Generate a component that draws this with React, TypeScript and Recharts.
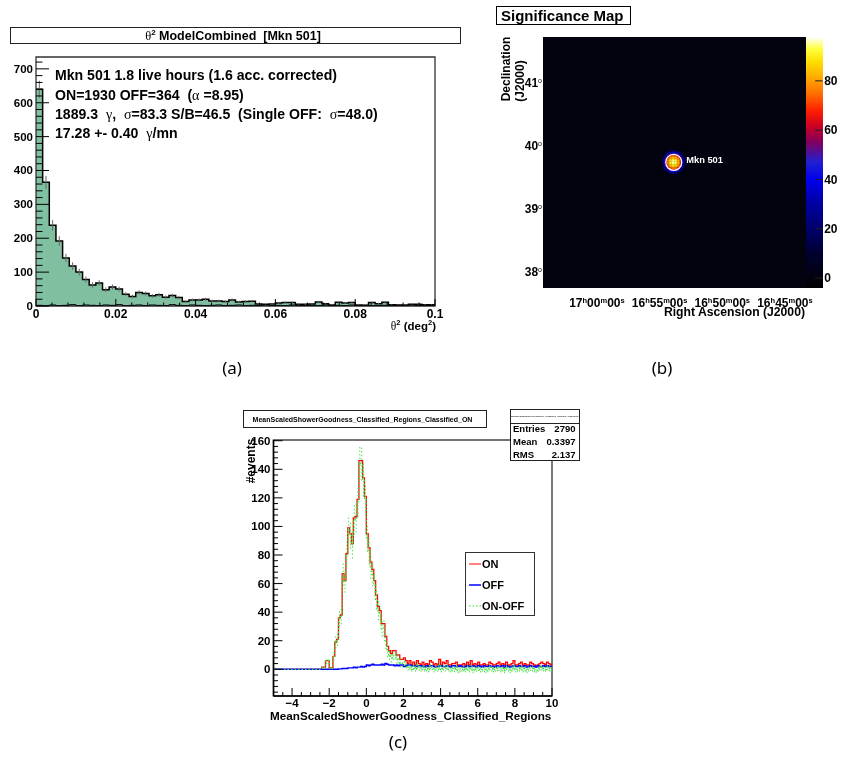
import {
  Area,
  Bar,
  BarChart,
  ComposedChart,
  ErrorBar,
  Legend,
  Line,
  ReferenceArea,
  ReferenceDot,
  Scatter,
  ScatterChart,
  XAxis,
  YAxis,
} from "recharts";

const FONT = "'Liberation Sans', Arial, sans-serif";
const INK = "#000";

// (a) theta2 histogram, 60 bins over 0..0.1
const THETA_BIN = 0.1 / 60;
const thetaOn = [
  640, 365, 238, 192, 142, 118, 100, 78, 62, 68,
  48, 56, 50, 35, 28, 40, 37, 30, 33, 26,
  31, 25, 13, 18, 18, 20, 15, 15, 13, 18,
  12, 13, 14, 6, 5, 6, 9, 10, 10, 5,
  5, 6, 12, 7, 3, 11, 9, 10, 3, 2,
  10, 7, 11, 4, 3, 3, 5, 5, 4, 4,
];
const thetaOff = [
  2, 1, 3, 1, 2, 4, 1, 3, 2, 1,
  3, 2, 4, 1, 2, 3, 1, 3, 2, 1,
  4, 2, 1, 3, 2, 1, 2, 3, 1, 2,
  3, 1, 2, 1, 3, 1, 2, 1, 3, 2,
  1, 2, 1, 3, 1, 2, 1, 3, 1, 2,
  1, 1, 2, 1, 2, 1, 3, 1, 1, 2,
];
const thetaErr = [
  25, 19, 15.4, 14, 12, 11, 10, 9, 8, 8,
  7, 7.4, 7, 6, 5.5, 6.3, 6, 5.5, 5.7, 5,
  5.5, 5, 3.6, 4.2, 4.2, 4.5, 3.9, 3.9, 3.6, 4.2,
  3.5, 3.6, 3.7, 2.4, 2.2, 2.4, 3, 3.2, 3.2, 2.2,
  2.2, 2.4, 3.5, 2.6, 1.7, 3.3, 3, 3.2, 1.7, 1.4,
  3.2, 2.6, 3.3, 2, 1.7, 1.7, 2.2, 2.2, 2, 2,
];
const thetaXTicks = [
  0, 0.004, 0.008, 0.012, 0.016, 0.02, 0.024, 0.028, 0.032, 0.036, 0.04, 0.044, 0.048, 0.052,
  0.056, 0.06, 0.064, 0.068, 0.072, 0.076, 0.08, 0.084, 0.088, 0.092, 0.096, 0.1,
];
const thetaXMajor = [0, 0.02, 0.04, 0.06, 0.08, 0.1];
const thetaYMajor = [0, 100, 200, 300, 400, 500, 600, 700];
const thetaYTicks = Array.from({ length: 37 }, (_, i) => i * 20);

// (b) significance map: RA in minutes after 16h, Dec in degrees
const RA_DOMAIN = [43.32, 64.3];
const DEC_DOMAIN = [37.75, 41.73];
const raTicks = [60, 55, 50, 45];
const raTickLabels = [
  ["17", "00", "00"],
  ["16", "55", "00"],
  ["16", "50", "00"],
  ["16", "45", "00"],
];
const decTicks = [41, 40, 39, 38];
const zTicks = [0, 20, 40, 60, 80];
const Z_DOMAIN = [-4, 97.8];
const SOURCE_RA = 53.87;
const SOURCE_DEC = 39.743;
const CELL_RA = 0.12;
const CELL_DEC = 0.024;
const sigRows = [
  [0, 0, 1, 2, 3, 4, 6, 7, 8, 7, 6, 4, 3, 2, 1, 0, 0],
  [0, 1, 2, 4, 7, 13, 19, 22, 24, 22, 19, 13, 7, 4, 2, 1, 0],
  [1, 2, 4, 10, 20, 29, 37, 42, 44, 42, 37, 29, 20, 10, 4, 2, 1],
  [2, 4, 10, 22, 35, 49, 57, 62, 64, 62, 57, 49, 35, 22, 10, 4, 2],
  [3, 7, 20, 35, 52, 64, 72, 75, 76, 75, 72, 64, 52, 35, 20, 7, 3],
  [4, 13, 29, 49, 64, 74, 80, 83, 84, 83, 80, 74, 64, 49, 29, 13, 4],
  [6, 19, 37, 57, 72, 80, 85, 88, 90, 88, 85, 80, 72, 57, 37, 19, 6],
  [7, 22, 42, 62, 75, 83, 88, 93, 95, 93, 88, 83, 75, 62, 42, 22, 7],
  [8, 24, 44, 64, 76, 84, 90, 95, 98, 95, 90, 84, 76, 64, 44, 24, 8],
  [7, 22, 42, 62, 75, 83, 88, 93, 95, 93, 88, 83, 75, 62, 42, 22, 7],
  [6, 19, 37, 57, 72, 80, 85, 88, 90, 88, 85, 80, 72, 57, 37, 19, 6],
  [4, 13, 29, 49, 64, 74, 80, 83, 84, 83, 80, 74, 64, 49, 29, 13, 4],
  [3, 7, 20, 35, 52, 64, 72, 75, 76, 75, 72, 64, 52, 35, 20, 7, 3],
  [2, 4, 10, 22, 35, 49, 57, 62, 64, 62, 57, 49, 35, 22, 10, 4, 2],
  [1, 2, 4, 10, 20, 29, 37, 42, 44, 42, 37, 29, 20, 10, 4, 2, 1],
  [0, 1, 2, 4, 7, 13, 19, 22, 24, 22, 19, 13, 7, 4, 2, 1, 0],
  [0, 0, 1, 2, 3, 4, 6, 7, 8, 7, 6, 4, 3, 2, 1, 0, 0],
];
const paletteValues = [-4, 0, 10, 20, 30, 40, 47, 55, 62, 68, 75, 82, 88, 93, 98];
const paletteColors = [
  "#000000", "#03030f", "#000030", "#00006a", "#0000a0", "#0000ee", "#2020d0", "#800060",
  "#d00020", "#ff2000", "#ff7000", "#ffb000", "#ffe000", "#ffff40", "#ffffff",
];

// (c) shower goodness histograms, 150 bins over -5..10
const SHOWER_BIN = 0.1;
const showerOn = [
  0, 0, 0, 0, 0, 0, 0, 0, 0, 0, 0, 0, 0, 0, 0, 0, 0, 0, 0, 0, 0, 0, 0, 0, 0, 0,
  1.5, 1.5, 6, 6, 1, 1, 9, 19, 21, 36, 38, 67, 62, 81,
  99, 95, 88, 106, 107, 119, 146, 146, 134, 121,
  95, 85, 75, 70, 62, 52, 44, 41, 32, 32,
  23, 16, 13, 11, 13, 13, 10, 10, 7, 7,
  8, 6, 4, 6, 3, 5, 3, 6, 4, 3,
  5, 3, 4, 3, 6, 5, 3, 4, 3, 7,
  3, 5, 4, 6, 3, 3, 4, 4, 5, 3,
  3, 3, 4, 3, 5, 3, 6, 3, 4, 3,
  5, 3, 3, 4, 3, 3, 5, 4, 3, 3,
  4, 5, 3, 4, 3, 5, 3, 3, 4, 6,
  3, 3, 4, 5, 3, 4, 3, 3, 5, 4,
  3, 2, 3, 4, 5, 4, 3, 5, 4, 3,
];
const showerOff = [
  0, 0, 0, 0, 0, 0, 0, 0, 0, 0, 0, 0, 0, 0, 0, 0, 0, 0, 0, 0, 0, 0, 0, 0, 0, 0,
  0, 0, 0, 0, 0, 0, 0, 0, 0, 0.3, 0.3, 0.5, 0.5, 0.5,
  1, 1, 1, 1.5, 1, 1.5, 1.5, 2, 1.5, 2,
  3, 2.5, 3, 3.5, 3, 3, 3, 3, 3.5, 3,
  4, 3.5, 3, 3, 3, 2.5, 3, 2.5, 3, 3,
  2, 2.5, 3, 3, 2.5, 2.5, 2.5, 2, 2.5, 2.5,
  2, 1.5, 2.5, 2, 2.5, 2.5, 2, 1.5, 2, 2.5,
  2.5, 2, 2, 2.5, 2, 1.5, 2.5, 2.5, 2, 2,
  2.5, 2, 1.5, 2, 2.5, 2, 2, 2.5, 2, 1.5,
  2.5, 2, 1.5, 2.5, 2, 2, 2.5, 2, 2, 1.5,
  2.5, 2, 2, 2.5, 1.5, 2.5, 2, 1.5, 2, 2.5,
  2, 2, 2.5, 2, 2, 2.5, 1.5, 2, 2.5, 2,
  2, 1.5, 2.5, 2, 2, 2.5, 2, 2.5, 2, 2,
];
const showerDiff = [
  0, 0, 0, 0, 0, 0, 0, 0, 0, 0, 0, 0, 0, 0, 0, 0, 0, 0, 0, 0, 0, 0, 0, 0, 0, 0,
  1.5, 1.5, 6, 6, 1, 1, 9, 19, 21, 35.7, 37.7, 66.5, 61.5, 80.5,
  98, 94, 87, 104.5, 106, 117.5, 144.5, 144, 132.5, 119,
  92, 82.5, 72, 66.5, 59, 49, 41, 38, 28.5, 29,
  19, 12.5, 10, 8, 10, 10.5, 7, 7.5, 4, 4,
  5, 3, 1, 2, 0, 2, 0, 3, 1, 0,
  1.5, 0, 0.5, -0.5, 2.5, 1.5, -0.5, 1, 0, 3,
  -0.5, 1.5, 0.5, 2, 0, -0.5, 0.5, 0, 1.5, -1,
  -0.5, 0, 0.5, -0.5, 1.5, -0.5, 2, -1, 0.5, 0,
  1, -0.5, 0, 0, -1, 0, 1.5, 0.5, -0.5, 0,
  0.5, 1, -0.5, 0.5, -1, 1.5, 0, -1, 0.5, 2,
  -0.5, 0, 0.5, 1.5, -0.5, 0.5, -1, 0, 1, 0.5,
  -0.5, -1, 0, 1, 1.5, 0.5, 0, 1.5, 0.5, 0,
];
const showerErr = [
  0, 0, 0, 0, 0, 0, 0, 0, 0, 0, 0, 0, 0, 0, 0, 0, 0, 0, 0, 0, 0, 0, 0, 0, 0, 0,
  1.2, 1.2, 2.5, 2.5, 1, 1, 3, 4.4, 4.6, 6, 6.2, 8.2, 7.9, 9,
  9.9, 9.7, 9.4, 10.3, 10.3, 10.9, 12, 12, 11.6, 11,
  9.8, 9.2, 8.7, 8.4, 7.9, 7.2, 6.6, 6.4, 5.7, 5.7,
  4.8, 4, 3.6, 3.3, 3.6, 3.6, 3.2, 3.2, 2.6, 2.6,
  2.8, 2.4, 2, 2.4, 1.7, 2.2, 1.7, 2.4, 2, 1.7,
  2.2, 1.7, 2, 1.7, 2.4, 2.2, 1.7, 2, 1.7, 2.6,
  1.7, 2.2, 2, 2.4, 1.7, 1.7, 2, 2, 2.2, 1.7,
  1.7, 1.7, 2, 1.7, 2.2, 1.7, 2.4, 1.7, 2, 1.7,
  2.2, 1.7, 1.7, 2, 1.7, 1.7, 2.2, 2, 1.7, 1.7,
  2, 2.2, 1.7, 2, 1.7, 2.2, 1.7, 1.7, 2, 2.4,
  1.7, 1.7, 2, 2.2, 1.7, 2, 1.7, 1.7, 2.2, 2,
  1.7, 1.4, 1.7, 2, 2.2, 2, 1.7, 2.2, 2, 1.7,
];
const showerXMajor = [-4, -2, 0, 2, 4, 6, 8, 10];
const showerXTicks = Array.from({ length: 30 }, (_, i) => -4.5 + i * 0.5);
const showerYMajor = [0, 20, 40, 60, 80, 100, 120, 140, 160];
const showerYTicks = Array.from({ length: 45 }, (_, i) => -16 + i * 4);
const showerLegendNames = ["ON", "OFF", "ON-OFF"];
const statNames = ["Entries", "Mean", "RMS"];
const statValues = ["2790", "0.3397", "2.137"];

const thetaRows = [...thetaOn, thetaOn[59]].map((on, i) => ({
  x: i * THETA_BIN,
  on,
  off: thetaOff[Math.min(i, 59)],
}));
const thetaCentres = thetaOn.map((on, i) => ({
  x: (i + 0.5) * THETA_BIN,
  on,
  err: thetaErr[i],
}));
const showerRows = [...showerOn, showerOn[149]].map((on, i) => ({
  x: -5 + i * SHOWER_BIN,
  on,
  off: showerOff[Math.min(i, 149)],
  diff: showerDiff[Math.min(i, 149)],
}));
const showerCentres = showerDiff.map((diff, i) => ({
  x: -5 + (i + 0.5) * SHOWER_BIN,
  diff,
  err: showerErr[i],
}));
const sigCells = sigRows.flatMap((row, r) =>
  row.map((sig, c) => ({
    ra: SOURCE_RA + (8 - c) * CELL_RA,
    dec: SOURCE_DEC + (8 - r) * CELL_DEC,
    sig,
  })),
);
const colorBar = [{ name: "z", range: Z_DOMAIN }];

function sigColor(v: number) {
  let i = 0;
  while (i < paletteValues.length - 2 && v > paletteValues[i + 1]) i++;
  const t = Math.max(0, Math.min(1, (v - paletteValues[i]) / (paletteValues[i + 1] - paletteValues[i])));
  const a = paletteColors[i];
  const b = paletteColors[i + 1];
  const mix = (p: number) => {
    const from = parseInt(a.slice(p, p + 2), 16);
    const to = parseInt(b.slice(p, p + 2), 16);
    return Math.round(from + (to - from) * t);
  };
  return `rgb(${mix(1)},${mix(3)},${mix(5)})`;
}

type TextProps = {
  x: number;
  y: number;
  size?: number;
  weight?: number;
  align?: "left" | "center" | "right";
  rotate?: number;
  color?: string;
  family?: string;
  children: React.ReactNode;
};

function Txt({ x, y, size = 11, weight = 700, align = "left", rotate = 0, color = INK, family = FONT, children }: TextProps) {
  const shift = align === "left" ? 0 : align === "center" ? -50 : -100;
  return (
    <div
      style={{
        position: "absolute",
        left: x,
        top: y,
        transform: `translate(${shift}%, -50%) rotate(${rotate}deg)`,
        fontFamily: family,
        fontSize: size,
        fontWeight: weight,
        color,
        lineHeight: 1,
        whiteSpace: "pre",
      }}
    >
      {children}
    </div>
  );
}

function Box({ left, top, width, height, children }: { left: number; top: number; width: number; height: number; children?: React.ReactNode }) {
  return (
    <div
      style={{
        position: "absolute",
        left,
        top,
        width,
        height,
        boxSizing: "border-box",
        background: "#fff",
        border: "1px solid #222",
        borderRightWidth: 1.5,
        borderBottomWidth: 1.5,
      }}
    >
      {children}
    </div>
  );
}

const Sym = ({ children }: { children: React.ReactNode }) => (
  <span style={{ fontFamily: "'Liberation Serif', serif", fontWeight: 400 }}>{children}</span>
);

function ThetaXTick({ x, y, payload }: any) {
  const major = thetaXMajor.includes(payload.value);
  return (
    <g>
      <line x1={x} x2={x} y1={y} y2={y - (major ? 7 : 3.5)} stroke="#000" />
      {major && (
        <text x={x} y={y + 12} textAnchor="middle" fontFamily={FONT} fontWeight={700} fontSize={12} fill={INK}>
          {payload.value}
        </text>
      )}
    </g>
  );
}

function ThetaYTick({ x, y, payload }: any) {
  const major = thetaYMajor.includes(payload.value);
  return (
    <g>
      <line x1={x} x2={x + (major ? 13 : 6.5)} y1={y} y2={y} stroke="#000" />
      {major && (
        <text x={x - 3} y={y + 4} textAnchor="end" fontFamily={FONT} fontWeight={700} fontSize={11.5} fill={INK}>
          {payload.value}
        </text>
      )}
    </g>
  );
}

function RaTick({ x, y, payload }: any) {
  const parts = raTickLabels[raTicks.indexOf(payload.value)];
  return (
    <text x={x} y={y + 19} textAnchor="middle" fontFamily={FONT} fontWeight={700} fontSize={12} fill={INK}>
      {parts[0]}
      <tspan dy={-4} fontSize={7.5}>h</tspan>
      <tspan dy={4}>{parts[1]}</tspan>
      <tspan dy={-4} fontSize={7.5}>m</tspan>
      <tspan dy={4}>{parts[2]}</tspan>
      <tspan dy={-4} fontSize={7.5}>s</tspan>
    </text>
  );
}

function DecTick({ x, y, payload }: any) {
  return (
    <text x={x - 1} y={y + 4} textAnchor="end" fontFamily={FONT} fontWeight={700} fontSize={12} fill={INK}>
      {payload.value}
      <tspan dy={-4} fontSize={7} fontWeight={400}>o</tspan>
    </text>
  );
}

function ZTick({ x, y, payload }: any) {
  return (
    <g>
      <line x1={x - 7.5} x2={x} y1={y} y2={y} stroke="#222" strokeWidth={1} />
      <text x={x + 1.5} y={y + 4} fontFamily={FONT} fontWeight={700} fontSize={12} fill={INK}>
        {payload.value}
      </text>
    </g>
  );
}

function ShowerXTick({ x, y, payload }: any) {
  const major = showerXMajor.includes(payload.value);
  return (
    <g>
      <line x1={x} x2={x} y1={y} y2={y - (major ? 8 : 4)} stroke="#000" />
      {major && (
        <text x={x} y={y + 11} textAnchor="middle" fontFamily={FONT} fontWeight={700} fontSize={11.5} fill={INK}>
          {payload.value < 0 ? `\u2212${-payload.value}` : payload.value}
        </text>
      )}
    </g>
  );
}

function ShowerYTick({ x, y, payload }: any) {
  const major = showerYMajor.includes(payload.value);
  return (
    <g>
      <line x1={x} x2={x + (major ? 9 : 4.5)} y1={y} y2={y} stroke="#000" />
      {major && (
        <text x={x - 3} y={y + 4} textAnchor="end" fontFamily={FONT} fontWeight={700} fontSize={11.5} fill={INK}>
          {payload.value}
        </text>
      )}
    </g>
  );
}

function SigCell({ cx, cy, payload }: any) {
  return <rect x={cx - 0.85} y={cy - 0.85} width={1.7} height={1.7} fill={sigColor(payload.sig)} />;
}

function ShowerLegend({ payload }: any) {
  const colorOf = (name: string) => (payload ?? []).find((entry: any) => entry.value === name)?.color;
  return (
    <div
      style={{
        width: 70,
        height: 64,
        boxSizing: "border-box",
        background: "#fff",
        border: "1px solid #333",
        borderRightWidth: 1.5,
        borderBottomWidth: 1.5,
      }}
    >
      {showerLegendNames.map((name) => (
        <div key={name} style={{ display: "flex", alignItems: "center", height: 21 }}>
          <svg width={14} height={6} style={{ marginLeft: 2 }}>
            <line
              x1={1}
              x2={13}
              y1={3}
              y2={3}
              stroke={colorOf(name)}
              strokeWidth={name === "OFF" ? 1.5 : 1}
              strokeDasharray={name === "ON-OFF" ? "1.5 2" : undefined}
            />
          </svg>
          <span style={{ fontFamily: FONT, fontWeight: 700, fontSize: 11, color: INK }}>{name}</span>
        </div>
      ))}
    </div>
  );
}

export default function App() {
  return (
    <div
      style={{
        position: "absolute",
        left: 0,
        top: 0,
        width: 841,
        height: 772,
        background: "#fff",
        overflow: "hidden",
        filter: "blur(0.45px)", // the source figure is a soft raster
      }}
    >
      {/* (a) */}
      <Box left={10} top={27} width={451} height={17} />
      <Txt x={233} y={35.5} size={12.5} align="center">
        <Sym>θ</Sym>
        <sup style={{ fontSize: 8, lineHeight: 0 }}>2</sup>
        {" ModelCombined  [Mkn 501]"}
      </Txt>
      <div style={{ position: "absolute", left: 0, top: 50 }}>
        <ComposedChart width={445} height={290} data={thetaRows} margin={{ top: 7, right: 10, bottom: 0, left: 0 }}>
          <Area
            type="stepAfter"
            dataKey="on"
            fill="#80c0a0"
            fillOpacity={1}
            stroke="#000"
            strokeWidth={1.5}
            baseValue={0}
            dot={false}
            activeDot={false}
            isAnimationActive={false}
          />
          <Line
            data={thetaCentres}
            dataKey="on"
            stroke="none"
            dot={false}
            activeDot={false}
            legendType="none"
            isAnimationActive={false}
          >
            <ErrorBar dataKey="err" direction="y" width={0} stroke="#666" strokeWidth={1} isAnimationActive={false} />
          </Line>
          <Line type="stepAfter" dataKey="off" stroke="#000" strokeWidth={1} dot={false} activeDot={false} isAnimationActive={false} />
          <XAxis
            type="number"
            dataKey="x"
            domain={[0, 0.1]}
            allowDataOverflow
            ticks={thetaXTicks}
            interval={0}
            height={34}
            tickSize={0}
            tickMargin={0}
            tickLine={false}
            axisLine={false}
            tick={ThetaXTick}
          />
          <YAxis
            type="number"
            domain={[0, 735]}
            allowDataOverflow
            ticks={thetaYTicks}
            interval={0}
            width={36}
            tickSize={0}
            tickMargin={0}
            tickLine={false}
            axisLine={false}
            tick={ThetaYTick}
          />
          <ReferenceArea x1={0} x2={0.1} y1={0} y2={735} fill="none" stroke="#333" strokeWidth={1.3} ifOverflow="visible" />
        </ComposedChart>
      </div>
      <div style={{ position: "absolute", left: 55, top: 66.5 }}>
        <Txt x={0} y={8.5} size={14.1}>Mkn 501 1.8 live hours (1.6 acc. corrected)</Txt>
        <Txt x={0} y={28} size={14.1}>
          {"ON=1930 OFF=364  ("}<Sym>α</Sym>{" =8.95)"}
        </Txt>
        <Txt x={0} y={47.5} size={14.1}>
          {"1889.3  "}<Sym>γ</Sym>{",  "}<Sym>σ</Sym>{"=83.3 S/B=46.5  (Single OFF:  "}<Sym>σ</Sym>{"=48.0)"}
        </Txt>
        <Txt x={0} y={66.5} size={14.1}>
          {"17.28 +- 0.40  "}<Sym>γ</Sym>{"/mn"}
        </Txt>
      </div>
      <Txt x={436} y={327} size={11.5} align="right">
        <Sym>θ</Sym>
        <sup style={{ fontSize: 7.5, lineHeight: 0 }}>2</sup>
        {" (deg"}
        <sup style={{ fontSize: 7.5, lineHeight: 0 }}>2</sup>
        {")"}
      </Txt>

      {/* (b) */}
      <div
        style={{
          position: "absolute",
          left: 495.5,
          top: 5.5,
          width: 135,
          height: 19,
          boxSizing: "border-box",
          border: "1px solid #000",
          background: "#fff",
        }}
      />
      <Txt x={501} y={15} size={15}>Significance Map</Txt>
      <Txt x={506} y={69} size={12} align="center" rotate={-90}>Declination</Txt>
      <Txt x={520} y={80.5} size={12} align="center" rotate={-90}>(J2000)</Txt>
      <div style={{ position: "absolute", left: 500, top: 30 }}>
        <ScatterChart width={341} height={285} margin={{ top: 7, right: 35, bottom: 0, left: 0 }}>
          <ReferenceArea x1={RA_DOMAIN[0]} x2={RA_DOMAIN[1]} y1={DEC_DOMAIN[0]} y2={DEC_DOMAIN[1]} fill="#03030f" fillOpacity={1} stroke="none" />
          <XAxis
            type="number"
            dataKey="ra"
            reversed
            domain={RA_DOMAIN}
            allowDataOverflow
            ticks={raTicks}
            interval={0}
            height={27}
            tickSize={0}
            tickMargin={0}
            tickLine={false}
            axisLine={false}
            tick={RaTick}
          />
          <YAxis
            type="number"
            dataKey="dec"
            domain={DEC_DOMAIN}
            allowDataOverflow
            ticks={decTicks}
            interval={0}
            width={43}
            tickSize={0}
            tickMargin={0}
            tickLine={false}
            axisLine={false}
            tick={DecTick}
          />
        </ScatterChart>
      </div>
      {/* source blob sits on its own softened layer so the cells melt together */}
      <div style={{ position: "absolute", left: 500, top: 30, filter: "blur(0.7px)" }}>
        <ScatterChart width={341} height={285} margin={{ top: 7, right: 35, bottom: 27, left: 43 }}>
          <Scatter data={sigCells} dataKey="dec" shape={SigCell} isAnimationActive={false} />
          <ReferenceDot
            x={SOURCE_RA}
            y={SOURCE_DEC}
            r={8}
            fill="none"
            stroke="#fff"
            strokeWidth={1.2}
            label={{
              value: "Mkn 501",
              position: "right",
              offset: 4.5,
              fill: "#ffffff",
              fontFamily: FONT,
              fontWeight: 700,
              fontSize: 9.3,
              dy: -3,
            }}
          />
          <XAxis type="number" dataKey="ra" reversed domain={RA_DOMAIN} allowDataOverflow hide />
          <YAxis type="number" dataKey="dec" domain={DEC_DOMAIN} allowDataOverflow hide />
        </ScatterChart>
      </div>
      <div style={{ position: "absolute", left: 800, top: 30 }}>
        <BarChart width={41} height={265} data={colorBar} barCategoryGap={0} margin={{ top: 7, right: 0, bottom: 7, left: 6 }}>
          <defs>
            <linearGradient id="sigScale" x1="0" y1="1" x2="0" y2="0">
              {paletteValues.map((v, i) => (
                <stop
                  key={v}
                  offset={`${Math.min(100, ((v - Z_DOMAIN[0]) / (Z_DOMAIN[1] - Z_DOMAIN[0])) * 100)}%`}
                  stopColor={paletteColors[i]}
                />
              ))}
            </linearGradient>
          </defs>
          <Bar dataKey="range" fill="url(#sigScale)" isAnimationActive={false} />
          <XAxis dataKey="name" hide />
          <YAxis
            orientation="right"
            type="number"
            domain={Z_DOMAIN}
            allowDataOverflow
            ticks={zTicks}
            interval={0}
            width={18.3}
            tickSize={0}
            tickMargin={0}
            tickLine={false}
            axisLine={false}
            tick={ZTick}
          />
        </BarChart>
      </div>
      <Txt x={805} y={312} size={12.2} align="right">Right Ascension (J2000)</Txt>

      {/* (c) */}
      <Box left={243} top={409.5} width={244} height={18.5} />
      <Txt x={362.5} y={418.5} size={7} align="center">MeanScaledShowerGoodness_Classified_Regions_Classified_ON</Txt>
      <Txt x={251} y={461} size={12} align="center" rotate={-90}>#events</Txt>
      <div style={{ position: "absolute", left: 230, top: 430 }}>
        <ComposedChart width={330} height={296} data={showerRows} margin={{ top: 10, right: 8, bottom: 0, left: 0 }}>
          <Line name="ON" type="stepAfter" dataKey="on" stroke="#ff0000" strokeWidth={1.3} dot={false} activeDot={false} isAnimationActive={false} />
          <Line name="OFF" type="stepAfter" dataKey="off" stroke="#0000ff" strokeWidth={1.4} dot={false} activeDot={false} isAnimationActive={false} />
          <Line name="ON-OFF" type="stepAfter" dataKey="diff" stroke="#33dd33" strokeWidth={1.2} strokeDasharray="1.5 2" dot={false} activeDot={false} isAnimationActive={false} />
          <Line
            data={showerCentres}
            dataKey="diff"
            stroke="none"
            dot={false}
            activeDot={false}
            legendType="none"
            isAnimationActive={false}
          >
            <ErrorBar dataKey="err" direction="y" width={0} stroke="#55dd55" strokeWidth={1} strokeDasharray="1.5 2" isAnimationActive={false} />
          </Line>
          <XAxis
            type="number"
            dataKey="x"
            domain={[-5, 10]}
            allowDataOverflow
            ticks={showerXTicks}
            interval={0}
            height={30}
            tickSize={0}
            tickMargin={0}
            tickLine={false}
            axisLine={{ stroke: "#000", strokeWidth: 1.5 }}
            tick={ShowerXTick}
          />
          <YAxis
            type="number"
            domain={[-18.7, 160.5]}
            allowDataOverflow
            ticks={showerYTicks}
            interval={0}
            width={43.5}
            tickSize={0}
            tickMargin={0}
            tickLine={false}
            axisLine={{ stroke: "#000", strokeWidth: 1.5 }}
            tick={ShowerYTick}
          />
          <ReferenceArea x1={-5} x2={10} y1={-18.7} y2={160.5} fill="none" stroke="#444" strokeWidth={1.4} ifOverflow="visible" />
          <Legend
            layout="vertical"
            align="center"
            verticalAlign="middle"
            content={ShowerLegend}
            wrapperStyle={{ left: 235, top: 122, width: 70, height: 64 }}
          />
        </ComposedChart>
      </div>
      <Txt x={410.7} y={716} size={11.7} align="center">MeanScaledShowerGoodness_Classified_Regions</Txt>
      <Box left={510} top={409} width={70} height={52}>
        <div
          style={{
            height: 12.5,
            borderBottom: "1px solid #222",
            fontFamily: FONT,
            fontWeight: 700,
            fontSize: 2.3,
            lineHeight: "12px",
            textAlign: "center",
            whiteSpace: "nowrap",
            overflow: "hidden",
            color: "#333",
          }}
        >
          MeanScaledShowerGoodness_Classified_Regions_Classified_ON
        </div>
      </Box>
      {statNames.map((name, i) => (
        <div key={name}>
          <Txt x={513} y={428.5 + i * 13} size={9.5}>{name}</Txt>
          <Txt x={575.5} y={428.5 + i * 13} size={9.5} align="right">{statValues[i]}</Txt>
        </div>
      ))}

      {/* captions */}
      <Txt x={232} y={367} size={17} weight={400} align="center" family="'Noto Sans', sans-serif">(a)</Txt>
      <Txt x={662} y={367} size={17} weight={400} align="center" family="'Noto Sans', sans-serif">(b)</Txt>
      <Txt x={398} y={741} size={17} weight={400} align="center" family="'Noto Sans', sans-serif">(c)</Txt>
    </div>
  );
}
